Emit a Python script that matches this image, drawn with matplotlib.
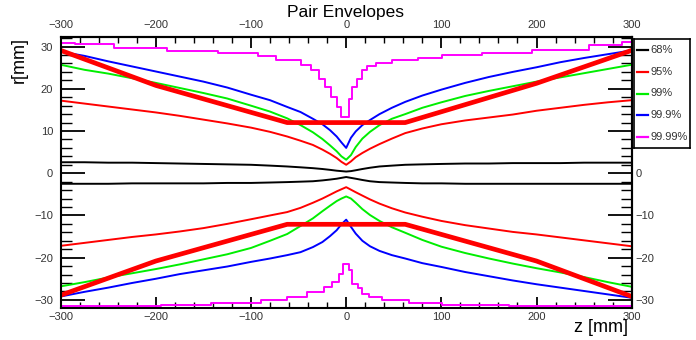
import matplotlib
matplotlib.use("Agg")
import matplotlib.pyplot as plt

plt.rcParams['font.family'] = ['Liberation Sans', 'DejaVu Sans']

# z sample points (mm) shared by the smooth envelope curves
z_pts = [-300, -275, -250, -225, -200, -175, -150, -125, -100, -80, -62, -48, -35, -25, -17, -10, -5, 0,
         5, 10, 17, 25, 35, 48, 62, 80, 100, 125, 150, 175, 200, 225, 250, 275, 300]

r68_up = [2.6, 2.6, 2.5, 2.5, 2.4, 2.3, 2.2, 2.1, 2.0, 1.8, 1.6, 1.4, 1.2, 1.0, 0.8, 0.6, 0.5, 0.4,
          0.5, 0.7, 1.0, 1.3, 1.6, 1.8, 2.0, 2.1, 2.2, 2.3, 2.3, 2.4, 2.4, 2.4, 2.5, 2.5, 2.5]
r68_lo = [-2.5, -2.5, -2.5, -2.4, -2.4, -2.4, -2.4, -2.3, -2.3, -2.2, -2.1, -2.0, -1.9, -1.7, -1.5, -1.3, -1.1, -0.9,
          -1.1, -1.3, -1.6, -1.9, -2.1, -2.2, -2.3, -2.4, -2.4, -2.5, -2.5, -2.5, -2.5, -2.5, -2.5, -2.5, -2.5]
r95_up = [17.2, 16.5, 15.8, 15.1, 14.4, 13.6, 12.7, 11.8, 10.8, 9.8, 8.7, 7.7, 6.7, 5.6, 4.6, 3.6, 2.7, 2.0,
          2.8, 3.8, 4.8, 5.8, 6.9, 8.2, 9.5, 10.6, 11.6, 12.5, 13.2, 13.9, 14.8, 15.5, 16.2, 16.8, 17.3]
r95_lo = [-17.2, -16.5, -15.8, -15.1, -14.5, -13.8, -13.0, -12.0, -10.9, -10.0, -9.2, -8.2, -7.0, -6.0, -5.1, -4.3, -3.8, -3.3,
          -3.9, -4.5, -5.3, -6.2, -7.2, -8.3, -9.3, -10.3, -11.3, -12.3, -13.1, -13.9, -14.5, -15.2, -15.9, -16.6, -17.3]
r99_up = [25.7, 24.5, 23.6, 22.5, 21.4, 20.2, 19.0, 17.7, 16.0, 14.6, 13.0, 11.4, 9.7, 8.1, 6.6, 5.2, 4.0, 3.2,
          4.3, 6.2, 8.2, 9.8, 11.4, 12.9, 14.0, 15.5, 16.8, 18.3, 19.5, 20.6, 21.7, 22.7, 23.7, 24.7, 25.7]
r99_lo = [-26.8, -25.8, -24.7, -23.7, -22.7, -21.6, -20.4, -19.2, -17.7, -16.0, -14.4, -12.5, -10.7, -9.0, -7.7, -6.6, -6.0, -5.5,
          -6.0, -7.0, -8.5, -9.9, -11.3, -12.8, -14.1, -15.8, -17.4, -18.9, -20.2, -21.4, -22.5, -23.5, -24.6, -25.8, -26.9]
r999_up = [28.8, 27.8, 26.5, 25.3, 24.1, 22.9, 21.7, 20.3, 18.6, 17.3, 15.7, 14.5, 12.9, 11.6, 10.2, 8.7, 7.3, 6.0,
           8.4, 9.9, 11.4, 12.6, 14.0, 15.5, 16.9, 18.4, 19.8, 21.4, 22.8, 24.0, 25.1, 26.3, 27.3, 28.2, 29.1]
r999_lo = [-29.2, -28.1, -27.1, -26.0, -25.0, -23.9, -23.0, -22.1, -21.0, -20.2, -19.4, -18.7, -17.5, -16.3, -14.9, -13.5, -12.1, -11.0,
           -12.7, -14.3, -16.0, -17.3, -18.4, -19.4, -20.2, -21.3, -22.2, -23.4, -24.4, -25.4, -26.3, -27.1, -27.9, -28.7, -29.5]

# 99.99% envelopes are coarse steps: bin edges and levels
z9999_up = [-300, -285, -244, -188, -135, -93, -74, -48, -37, -29, -22, -16, -10, -5,
            3, 6, 11, 17, 22, 31, 48, 75, 101, 143, 195, 255, 290, 300]
r9999_up = [30.9, 30.5, 29.6, 29.0, 28.4, 27.7, 26.8, 25.6, 24.4, 22.4, 20.5, 18.1, 15.7, 13.4,
            17.7, 20.4, 22.4, 24.4, 25.3, 26.1, 26.8, 27.4, 28.0, 28.5, 29.1, 30.3, 31.1, 31.1]
z9999_lo = [-300, -195, -142, -90, -62, -41, -23, -15, -8, -3,
            3, 6, 12, 17, 24, 38, 66, 101, 171, 300]
r9999_lo = [-31.5, -31.3, -30.7, -30.1, -29.3, -28.1, -26.9, -25.8, -23.8, -21.4,
            -23.0, -26.2, -27.3, -28.5, -29.3, -30.1, -30.7, -31.1, -31.5, -31.5]

# fixed envelope (thick red)
z_env = [-300, -200, -62, 62, 200, 300]
r_env_up = [29.1, 20.8, 12.0, 12.0, 21.3, 29.1]
r_env_lo = [-28.9, -20.8, -12.1, -12.1, -20.8, -29.2]

labels = ['68%', '95%', '99%', '99.9%', '99.99%']
colors = ['black', '#ff0000', '#00ee00', '#0000ff', '#ff00ff']

xticks = list(range(-300, 301, 100))
xminor = list(range(-300, 301, 20))
yticks = list(range(-30, 31, 10))
yminor = list(range(-30, 33, 2))

fig = plt.figure(figsize=(6.96, 3.40), dpi=100)
ax = fig.add_axes([0.0872, 0.0932, 0.8204, 0.7971])

lw = 1.4
ax.plot(z_pts, r68_up, color=colors[0], lw=lw)
ax.plot(z_pts, r68_lo, color=colors[0], lw=lw)
ax.plot(z_pts, r95_up, color=colors[1], lw=lw)
ax.plot(z_pts, r95_lo, color=colors[1], lw=lw)
ax.plot(z_pts, r99_up, color=colors[2], lw=lw)
ax.plot(z_pts, r99_lo, color=colors[2], lw=lw)
ax.plot(z_pts, r999_up, color=colors[3], lw=lw)
ax.plot(z_pts, r999_lo, color=colors[3], lw=lw)
ax.step(z9999_up, r9999_up, where='post', color=colors[4], lw=lw)
ax.step(z9999_lo, r9999_lo, where='post', color=colors[4], lw=lw)
ax.plot(z_env, r_env_up, color='#ff0000', lw=3.4)
ax.plot(z_env, r_env_lo, color='#ff0000', lw=3.4)

ax.set_xlim(-300, 300)
ax.set_ylim(-32, 32.2)
for s in ax.spines.values():
    s.set_linewidth(1.5)

ax.set_xticks(xticks)
ax.set_xticks(xminor, minor=True)
ax.set_yticks(yticks)
ax.set_yticks(yminor, minor=True)
ax.tick_params(axis='x', which='major', direction='in', length=8, width=1.3,
               labelsize=8, labelcolor='#333333', pad=3, top=False)
ax.tick_params(axis='x', which='minor', direction='in', length=4, width=1.0, top=False)
ax.tick_params(axis='y', which='major', direction='in', length=17, width=1.3,
               labelsize=8, labelcolor='#333333', pad=5.5, right=False)
ax.tick_params(axis='y', which='minor', direction='in', length=8, width=1.0, right=False)

topx = ax.secondary_xaxis('top')
topx.set_xticks(xticks)
topx.set_xticks(xminor, minor=True)
topx.tick_params(which='major', direction='in', length=8, width=1.3,
                 labelsize=8, labelcolor='#333333', pad=5)
topx.tick_params(which='minor', direction='in', length=4, width=1.0)
righty = ax.secondary_yaxis('right')
righty.set_yticks(yticks)
righty.set_yticks(yminor, minor=True)
righty.tick_params(which='major', direction='in', length=17, width=1.3,
                   labelsize=8, labelcolor='#333333', pad=2.5)
righty.tick_params(which='minor', direction='in', length=8, width=1.0)
for a in (topx, righty):
    for s in a.spines.values():
        s.set_linewidth(1.5)

fig.text(0.496, 0.962, 'Pair Envelopes', ha='center', va='center', fontsize=12.5)
fig.text(0.903, 0.038, 'z [mm]', ha='right', va='center', fontsize=13)
fig.text(0.027, 0.89, 'r[mm]', ha='center', va='top', rotation=90, fontsize=13)

# legend box outside the frame on the right
lax = fig.add_axes([0.911, 0.565, 0.081, 0.32], zorder=5)
lax.set_facecolor('white')
lax.set_xlim(0, 1)
lax.set_ylim(0, 1)
lax.set_xticks([])
lax.set_yticks([])
for s in lax.spines.values():
    s.set_linewidth(1.2)
for i, (lab, col) in enumerate(zip(labels, colors)):
    y = 0.9 - 0.2 * i
    lax.plot([0.05, 0.25], [y, y], color=col, lw=1.6)
    lax.text(0.29, y, lab, va='center', ha='left', fontsize=8, color='#333333')

fig.savefig('out.png', dpi=100)
